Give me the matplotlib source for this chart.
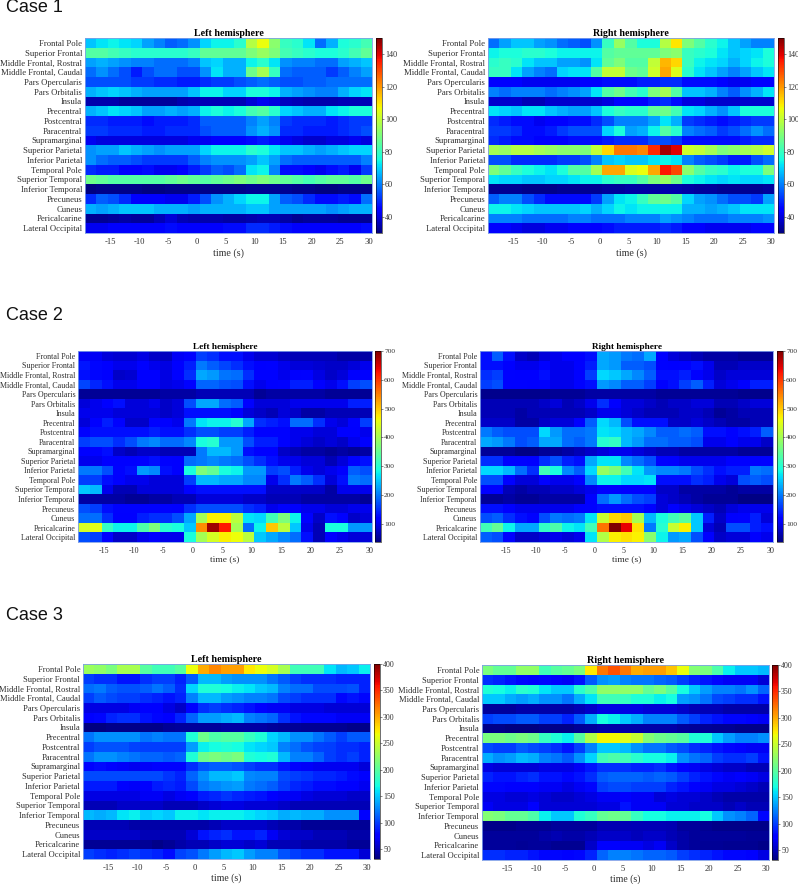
# Recreate the six regional heat maps (3 cases, left / right hemisphere)
import numpy as np
import matplotlib
matplotlib.use('Agg')
import matplotlib.pyplot as plt

regiones = ['Frontal Pole', 'Superior Frontal', 'Middle Frontal, Rostral', 'Middle Frontal, Caudal',
            'Pars Opercularis', 'Pars Orbitalis', 'Insula', 'Precentral', 'Postcentral', 'Paracentral',
            'Supramarginal', 'Superior Parietal', 'Inferior Parietal', 'Temporal Pole', 'Superior Temporal',
            'Inferior Temporal', 'Precuneus', 'Cuneus', 'Pericalcarine', 'Lateral Occipital']
time_ticks = [-15, -10, -5, 0, 5, 10, 15, 20, 25, 30]

# one value every 2 s
case1_left = [
    [68,72,74,72,70,64,60,56,58,62,70,74,74,78,98,106,92,80,78,72,58,66,76,78,82],
    [84,84,82,80,78,78,78,78,78,80,86,86,86,86,90,94,90,82,80,78,76,76,78,82,86],
    [64,66,64,62,60,60,58,58,58,60,68,70,66,66,74,78,72,62,60,60,58,58,64,66,68],
    [58,62,58,54,48,54,58,58,54,54,62,72,66,66,88,96,80,58,56,56,56,52,56,60,64],
    [54,54,54,54,52,52,50,50,48,48,50,52,52,54,56,58,56,54,54,56,56,58,58,58,58],
    [66,68,70,68,66,64,64,64,64,68,74,74,70,70,76,76,74,66,64,62,60,60,66,70,72],
    [35,35,35,33,33,33,33,33,35,36,36,36,36,36,39,42,40,37,36,35,35,35,36,36,36],
    [66,68,72,70,68,64,64,66,64,66,74,76,74,76,82,84,78,70,68,66,66,72,74,76,76],
    [50,50,48,48,48,46,48,48,48,50,56,56,56,56,60,64,60,52,50,50,50,48,50,52,52],
    [52,52,50,50,50,48,48,50,50,50,54,56,56,56,62,66,62,50,50,48,48,48,50,52,54],
    [42,40,40,40,40,40,40,40,40,42,42,44,44,44,46,48,46,42,40,38,38,40,40,42,40],
    [62,64,64,68,66,64,62,64,64,64,70,74,74,74,78,76,72,68,68,66,64,66,68,70,70],
    [62,58,56,56,54,52,52,52,52,56,60,62,62,62,64,68,64,58,56,56,56,56,56,56,60],
    [50,48,48,44,44,46,42,42,44,48,52,56,54,58,72,74,60,46,46,44,42,46,48,42,52],
    [88,86,84,84,84,84,84,86,88,86,84,86,88,90,88,90,88,86,84,82,84,86,86,84,88],
    [30,31,31,31,31,30,30,31,31,31,31,31,31,31,32,32,32,32,31,31,30,30,31,31,31],
    [50,56,54,50,44,44,44,42,42,48,54,62,66,70,74,74,64,56,54,50,46,46,48,46,58],
    [66,64,66,68,68,68,66,66,66,64,66,66,66,66,68,68,64,64,64,64,64,62,64,66,66],
    [32,32,33,34,33,33,36,39,36,35,35,35,34,34,35,36,36,34,32,33,33,33,32,32,32],
    [42,42,44,44,44,44,44,46,44,44,44,44,46,46,50,50,48,46,44,44,44,44,44,44,46],
]
case1_right = [
    [58,64,68,68,64,62,58,56,54,62,80,94,84,76,76,98,110,90,84,78,74,68,64,60,60],
    [74,76,76,78,78,76,74,74,74,74,84,86,86,86,86,90,92,80,78,76,72,68,70,72,76],
    [78,80,78,72,68,68,64,64,62,72,86,90,84,84,100,116,112,80,74,72,70,66,70,74,76],
    [80,80,72,64,60,58,70,72,72,84,100,100,88,86,102,118,104,78,72,68,64,60,64,68,72],
    [44,44,44,42,42,42,42,42,44,44,46,46,46,48,48,50,50,46,46,46,44,42,42,44,44],
    [60,58,60,60,60,58,60,62,64,72,84,88,82,78,90,96,84,68,68,66,60,56,62,66,72],
    [38,38,38,36,36,38,38,38,38,38,40,44,44,44,48,50,46,40,40,38,38,38,38,38,38],
    [72,70,68,72,72,68,66,64,64,68,76,80,78,78,86,88,82,72,70,66,62,68,76,76,76],
    [50,48,46,46,42,44,44,46,46,50,54,60,60,60,64,72,66,52,50,48,46,48,50,52,52],
    [52,52,50,46,46,48,52,54,54,54,70,76,64,66,74,84,78,60,58,56,52,54,58,62,58],
    [50,48,46,46,44,44,44,46,46,46,48,50,50,50,54,54,52,46,46,46,46,46,48,50,50],
    [96,94,98,98,96,94,92,92,90,100,112,124,124,122,134,146,140,102,100,96,90,92,96,98,102],
    [54,54,50,50,50,50,52,52,54,60,68,70,68,68,72,74,72,60,56,54,52,48,48,54,58],
    [90,86,80,76,74,72,76,84,84,96,118,118,104,106,118,136,130,92,84,80,78,74,76,76,90],
    [72,70,70,68,68,70,70,72,74,74,78,80,80,84,90,94,88,76,74,72,70,72,70,70,72],
    [32,32,32,31,31,31,32,32,32,32,33,33,34,34,34,35,35,34,33,33,32,32,32,32,33],
    [56,60,60,54,50,46,46,46,46,52,64,72,74,80,86,88,84,70,64,62,58,54,54,52,64],
    [74,74,72,70,68,68,68,68,70,66,70,74,72,74,74,74,74,66,66,64,66,68,72,72,72],
    [60,60,60,58,58,58,58,60,60,58,58,58,60,60,60,64,62,60,58,58,58,60,60,60,62],
    [44,44,42,40,40,42,42,44,44,44,46,48,48,48,48,50,48,44,44,42,42,42,42,44,44],
]
case2_left = [
    [105,105,90,85,85,95,80,75,105,120,160,150,130,130,100,85,85,75,70,70,70,70,60,60,60],
    [135,125,110,100,100,120,100,95,110,140,200,180,165,150,130,110,120,100,90,90,85,80,80,90,100],
    [130,125,110,80,85,110,110,95,120,150,230,220,195,190,150,120,120,100,110,120,95,80,90,110,110],
    [165,145,130,100,100,110,110,95,100,120,185,185,175,170,130,100,110,120,140,140,110,100,130,160,170],
    [50,50,50,50,50,50,50,60,60,60,70,70,70,70,70,50,60,60,60,60,60,50,50,50,50],
    [90,100,110,130,90,90,100,80,90,170,230,230,190,180,120,90,90,90,100,100,100,100,100,140,140],
    [100,100,100,90,90,90,90,80,90,130,130,130,130,110,90,80,70,90,80,60,60,70,70,70,70],
    [90,110,140,120,80,80,120,110,100,200,270,280,280,300,230,150,140,130,190,190,150,100,90,120,160],
    [120,130,130,130,130,130,140,130,130,150,170,170,160,160,140,120,120,120,100,100,90,90,110,110,100],
    [160,170,170,150,170,200,210,190,190,210,290,300,220,220,170,140,140,120,100,90,80,90,80,100,110],
    [110,120,130,80,70,80,80,70,70,70,200,240,240,220,130,110,110,80,70,60,60,50,60,50,60],
    [100,100,110,110,110,120,130,120,110,190,200,210,200,190,170,150,130,100,100,90,90,70,90,120,130],
    [200,200,170,120,130,220,210,130,110,290,370,350,290,280,220,220,160,170,140,100,90,100,110,180,170],
    [160,160,130,110,100,100,90,90,90,160,240,240,230,230,210,210,100,150,200,180,150,90,130,200,190],
    [250,240,100,70,70,90,90,90,90,120,130,130,130,130,130,130,80,80,80,80,80,60,100,100,100],
    [60,60,60,60,50,50,60,60,70,70,90,90,90,90,80,80,70,70,70,60,60,60,60,60,50],
    [170,160,130,120,120,120,120,120,110,150,170,170,170,170,150,140,100,120,110,100,100,90,90,100,100],
    [190,190,150,110,110,140,150,150,170,230,400,470,470,420,270,260,320,370,280,110,80,130,120,80,90],
    [440,450,310,280,280,330,370,300,290,250,540,680,620,400,190,280,500,420,250,100,70,290,290,220,220],
    [170,160,120,80,80,100,110,100,100,290,400,440,470,460,420,250,230,210,190,130,70,110,100,90,90],
]
case2_right = [
    [130,180,130,80,70,90,100,110,110,130,230,220,200,190,230,110,90,80,70,60,60,60,50,50,50],
    [130,130,110,100,100,120,100,100,120,140,230,220,180,180,170,120,110,120,130,100,70,70,80,80,80],
    [150,160,120,110,110,130,100,100,120,160,260,250,230,210,180,130,130,140,120,100,80,90,90,90,90],
    [160,170,120,120,110,120,100,100,120,130,220,210,180,180,160,120,130,160,180,140,90,100,110,140,140],
    [45,45,45,45,45,45,50,50,50,60,60,60,60,60,60,50,50,50,50,50,50,50,45,45,45],
    [70,70,70,70,70,80,90,70,80,100,150,110,90,90,80,70,80,80,90,90,70,70,80,90,90],
    [70,70,70,60,70,70,70,70,70,80,100,100,90,80,70,70,70,80,80,70,50,60,70,70,70],
    [80,80,80,60,60,80,90,90,110,180,260,240,170,130,130,130,80,80,90,80,70,60,60,70,70],
    [200,180,170,170,170,260,220,190,190,200,270,260,240,230,210,180,180,190,180,130,130,120,130,140,180],
    [230,220,200,170,180,230,230,190,180,200,300,310,240,220,190,190,180,180,170,100,100,110,100,100,80],
    [50,50,50,40,40,50,50,60,70,80,90,100,100,90,80,70,70,60,60,60,60,60,50,50,50],
    [150,150,120,120,110,150,170,140,130,230,270,270,210,190,170,120,110,100,100,100,100,110,110,110,120],
    [260,260,240,190,150,320,290,210,180,260,390,370,320,270,220,210,210,200,170,150,130,140,140,200,190],
    [170,170,110,90,90,120,100,100,110,210,280,280,260,260,270,130,130,130,150,140,100,90,170,180,170],
    [110,110,70,60,70,70,80,80,90,100,120,120,110,110,110,80,80,60,60,60,60,50,60,60,60],
    [50,50,60,50,50,60,60,60,60,110,190,220,190,170,160,90,80,70,60,50,50,50,40,40,40],
    [130,130,110,100,100,100,100,100,110,120,130,130,130,130,110,90,110,100,90,80,70,90,100,100,100],
    [170,180,150,130,120,170,200,190,200,270,430,490,500,400,240,290,320,340,250,140,80,110,120,140,90],
    [320,350,280,230,230,310,330,280,270,320,560,700,640,480,200,300,430,470,250,90,70,170,170,140,130],
    [180,170,120,80,80,90,100,90,100,270,410,470,480,470,380,280,220,230,170,110,80,90,90,110,100],
]
case3_left = [
    [230,225,215,235,235,200,190,190,200,265,300,315,305,305,275,265,255,235,190,190,190,160,145,150,165],
    [100,95,95,85,85,95,100,100,90,110,145,145,135,130,130,130,120,110,100,95,95,95,90,90,90],
    [118,122,112,108,108,112,120,112,95,155,175,175,170,165,160,150,145,125,118,118,105,105,105,108,90],
    [100,110,105,100,100,95,90,85,90,125,145,145,135,130,125,125,120,105,100,95,95,95,80,85,80],
    [65,65,65,65,70,75,75,65,55,75,95,100,95,90,85,75,70,70,65,65,65,60,60,60,60],
    [75,80,90,95,95,85,80,75,90,115,135,135,140,145,125,120,115,95,85,80,80,80,70,70,70],
    [32,32,36,36,36,36,36,40,42,42,42,42,44,44,44,44,42,40,40,38,38,38,38,36,36],
    [120,130,130,130,130,120,125,120,120,175,210,195,200,200,185,175,155,145,130,130,120,110,100,110,110],
    [100,108,108,108,102,100,100,100,100,135,165,170,175,170,160,155,150,125,118,108,102,100,95,95,90],
    [120,130,130,125,120,115,115,110,115,175,210,215,210,215,175,170,175,145,125,125,115,100,95,100,90],
    [78,82,78,72,68,72,78,78,78,95,108,112,112,108,100,95,95,85,78,72,68,68,68,68,62],
    [105,105,105,105,105,105,105,98,90,115,130,145,145,150,128,125,125,105,100,98,92,92,88,82,78],
    [88,88,88,78,72,78,88,92,88,105,122,128,132,135,122,118,112,100,92,88,82,82,78,78,68],
    [65,65,65,65,65,70,70,65,70,75,88,92,98,92,88,85,75,70,70,65,60,60,60,55,55],
    [50,50,50,55,55,55,55,50,50,50,55,60,65,65,60,60,60,55,50,50,50,50,50,50,50],
    [145,140,145,160,165,150,155,150,165,165,160,165,165,165,160,155,150,140,145,140,140,130,130,130,75],
    [50,50,50,50,45,45,45,45,45,45,45,50,55,55,55,55,50,45,45,40,40,40,40,40,40],
    [55,55,55,55,55,50,50,50,50,60,85,90,95,85,85,90,70,60,55,55,50,50,50,45,45],
    [40,40,40,40,40,40,35,40,45,50,50,55,60,60,55,60,50,50,50,45,45,45,45,40,40],
    [100,95,90,95,100,95,90,82,102,108,122,135,145,150,135,125,125,108,100,95,95,85,85,85,60],
]
case3_right = [
    [215,205,205,225,225,190,200,205,215,275,320,335,320,300,305,305,290,265,220,215,195,165,150,150,145],
    [95,90,85,80,75,80,75,70,85,110,130,135,125,120,120,115,110,100,90,85,80,70,70,70,60],
    [175,170,165,180,175,160,150,150,180,195,225,225,225,225,205,215,200,170,150,135,125,125,120,130,115],
    [150,150,140,135,140,130,130,120,140,160,190,190,185,175,175,165,170,135,130,120,105,100,95,95,85],
    [42,42,42,45,45,45,45,45,50,55,65,65,65,65,60,60,60,55,50,50,50,45,45,45,45],
    [100,105,105,110,110,100,100,90,110,140,170,165,150,140,125,125,125,110,100,90,85,80,80,75,70],
    [36,36,32,32,32,36,36,36,40,42,45,45,45,45,45,45,45,42,40,40,38,38,36,36,36],
    [215,215,210,215,210,185,175,165,200,240,270,270,260,250,220,210,205,200,175,175,150,135,125,125,130],
    [105,100,100,110,105,100,95,85,100,125,150,150,145,130,120,120,110,105,95,90,85,80,75,70,70],
    [140,130,135,145,140,125,120,110,130,155,190,195,190,180,170,170,165,130,120,115,100,95,95,100,85],
    [65,60,60,60,60,65,65,65,70,85,95,95,95,90,90,95,85,75,70,65,60,55,55,50,50],
    [90,85,85,90,95,85,85,80,85,95,110,115,115,115,110,115,110,100,90,85,80,70,75,70,65],
    [80,80,75,75,75,70,70,65,70,80,100,105,105,100,100,100,90,85,75,70,65,65,60,55,50],
    [65,65,60,60,65,60,55,55,60,65,70,70,75,70,70,60,65,60,60,55,50,45,45,45,45],
    [70,65,65,65,75,60,60,60,60,60,65,65,85,70,70,70,60,60,55,55,55,50,55,50,50],
    [220,215,205,205,195,165,150,150,175,185,205,210,205,185,170,170,165,165,165,170,150,130,125,115,80],
    [36,36,36,38,38,38,42,42,42,42,48,48,50,50,50,50,48,42,42,38,36,36,36,36,36],
    [42,42,42,42,42,45,48,45,45,50,55,55,55,52,55,55,50,45,42,42,42,42,42,40,40],
    [42,42,42,40,42,42,38,38,38,55,75,75,70,70,65,70,55,45,42,40,40,38,38,38,36],
    [95,95,90,90,85,80,80,75,80,90,115,125,125,120,115,115,110,100,95,90,85,80,80,75,65],
]

plt.rcParams['font.family'] = ['Liberation Serif', 'DejaVu Serif']
W, H = 798, 884
fig = plt.figure(figsize=(W/100, H/100), dpi=100)


def panel(datos, caja, cbar_x, titulo, vmin, vmax, cticks, fs, fs_t, fs_c, lpad):
    # caja = left, right, top, bottom in pixels of the reference
    x0, x1, y0, y1 = caja
    ax = fig.add_axes([x0/W, 1 - y1/H, (x1 - x0)/W, (y1 - y0)/H])
    z = np.array(datos, dtype=float)
    edges_t = -19.5 + 2*np.arange(z.shape[1] + 1)
    edges_r = np.arange(z.shape[0] + 1)
    m = ax.pcolormesh(edges_t, edges_r, z, cmap='jet', vmin=vmin, vmax=vmax, shading='flat')
    ax.set_ylim(len(regiones), 0)
    ax.set_yticks(np.arange(len(regiones)) + 0.5, regiones)
    ax.set_xticks(time_ticks, [str(t) for t in time_ticks])
    ax.tick_params(length=0, labelsize=fs, colors='#303030')
    ax.tick_params(axis='y', pad=2)
    ax.tick_params(axis='x', pad=3.4)
    ax.set_xlabel('time (s)', fontsize=fs + 1, color='#303030', labelpad=lpad)
    ax.set_title(titulo, fontsize=fs_t, fontweight='bold', pad=1.5)
    for s in ax.spines.values():
        s.set_color('#7f9fe8')
        s.set_linewidth(0.6)
    cax = fig.add_axes([cbar_x/W, 1 - y1/H, 6/W, (y1 - y0)/H])
    cb = fig.colorbar(m, cax=cax, ticks=cticks)
    cb.ax.tick_params(length=1.2, width=0.4, labelsize=fs_c, colors='#303030', pad=1)
    cb.outline.set_linewidth(0.4)


c1 = [40, 60, 80, 100, 120, 140]
c2 = [100, 200, 300, 400, 500, 600, 700]
c3 = [50, 100, 150, 200, 250, 300, 350, 400]
panel(case1_left, (85, 372, 38, 233), 376, 'Left hemisphere', 30, 150, c1, 6.2, 7.2, 5.9, 1.7)
panel(case1_right, (488, 774, 38, 233), 778, 'Right hemisphere', 30, 150, c1, 6.2, 7.2, 5.9, 1.7)
panel(case2_left, (78, 372, 351, 542), 375, 'Left hemisphere', 37, 700, c2, 5.8, 6.7, 5.3, 0.3)
panel(case2_right, (480, 773, 351, 542), 777, 'Right hemisphere', 37, 700, c2, 5.8, 6.7, 5.3, 0.3)
panel(case3_left, (83, 370, 664, 859), 374, 'Left hemisphere', 32, 400, c3, 6.1, 7.3, 5.7, 1.0)
panel(case3_right, (482, 769, 665, 860), 772, 'Right hemisphere', 32, 400, c3, 6.1, 7.3, 5.7, 1.0)

for texto, y in [('Case 1', 7), ('Case 2', 315), ('Case 3', 615)]:
    fig.text(6/W, 1 - y/H, texto, family='Liberation Sans', fontsize=13, va='center', color='#111111')

fig.savefig('out.png', dpi=100)
